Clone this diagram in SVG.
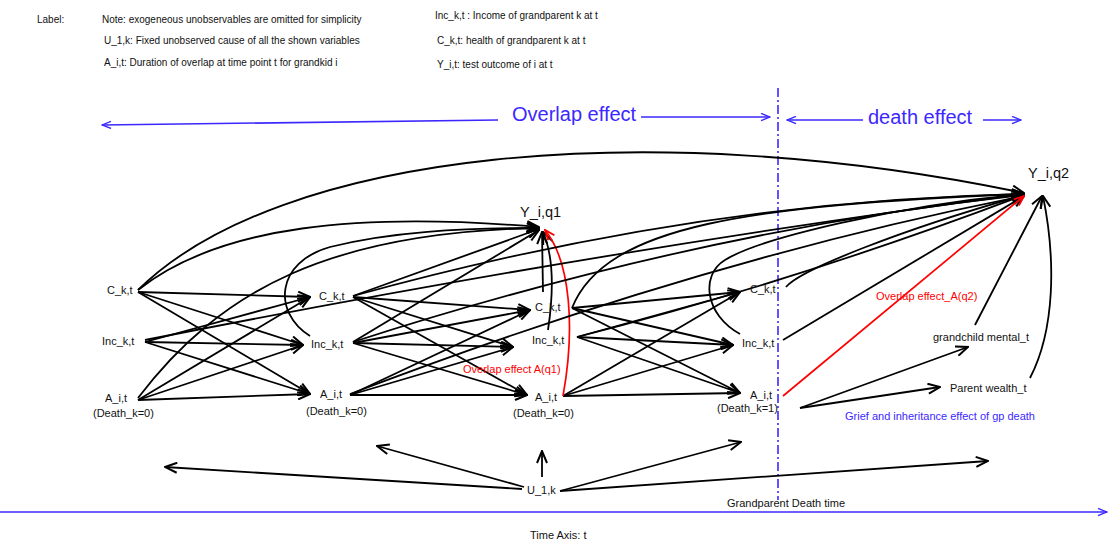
<svg xmlns="http://www.w3.org/2000/svg" width="1109" height="542" viewBox="0 0 1109 542">
<style>
text{font-family:"Liberation Sans",Arial,sans-serif;fill:#111}
.h{font-size:10px}
.n{font-size:11px}
.y{font-size:14.5px}
.big{font-size:20px;fill:#3c28ff}
.red{font-size:11px;fill:#f00}
.blt{font-size:11px;fill:#3c28ff}
.e{fill:none;stroke:#000;stroke-width:1.8;marker-end:url(#a)}
.r{fill:none;stroke:#f00;stroke-width:1.7}
.b{fill:none;stroke:#3c28ff;stroke-width:1.6;marker-end:url(#ab)}
</style>
<defs>
<marker id="a" viewBox="0 0 14 12" refX="13" refY="6" markerWidth="14" markerHeight="12" markerUnits="userSpaceOnUse" orient="auto"><path d="M1,1 L13,6 L1,11" fill="none" stroke="#000" stroke-width="2"/></marker>
<marker id="ar" viewBox="0 0 12 10" refX="11" refY="5" markerWidth="12" markerHeight="10" markerUnits="userSpaceOnUse" orient="auto"><path d="M1,1 L11,5 L1,9" fill="none" stroke="#f00" stroke-width="1.8"/></marker>
<marker id="ab" viewBox="0 0 12 10" refX="11" refY="5" markerWidth="11" markerHeight="9" markerUnits="userSpaceOnUse" orient="auto"><path d="M1,1 L11,5 L1,9" fill="none" stroke="#3c28ff" stroke-width="1.5"/></marker>
</defs>
<rect width="1109" height="542" fill="#fff"/>

<g id="legend">
<text class="h" x="37" y="23">Label:</text>
<text class="h" x="102" y="23">Note: exogeneous unobservables are omitted for simplicity</text>
<text class="h" x="104" y="44">U_1,k: Fixed unobserved cause of all the shown variables</text>
<text class="h" x="104" y="66">A_i,t: Duration of overlap at time point t for grandkid i</text>
<text class="h" x="435" y="19">Inc_k,t : Income of grandparent k at t</text>
<text class="h" x="437" y="44">C_k,t: health of grandparent k at t</text>
<text class="h" x="437" y="68">Y_i,t: test outcome of i at t</text>
</g>

<g id="periods">
<path class="b" d="M498,120 L102,125"/>
<text class="big" x="512" y="121">Overlap effect</text>
<path class="b" d="M641,117 L770,117"/>
<path class="b" d="M863,120 L787,120"/>
<text class="big" x="868" y="124">death effect</text>
<path class="b" d="M983,120 L1021,120"/>
<path d="M778,88 L778,500" fill="none" stroke="#3c28ff" stroke-width="1.6" stroke-dasharray="9,3,2,3"/>
<path class="b" d="M0,512 L1107,512"/>
<text class="n" x="727" y="507">Grandparent Death time</text>
<text class="n" x="530" y="539">Time Axis: t</text>
</g>

<g id="connectors">
<path class="e" d="M138,292 L310,297"/>
<path class="e" d="M138,292 L303,345"/>
<path class="e" d="M138,292 L310,394"/>
<path class="e" d="M145,342 L310,297"/>
<path class="e" d="M145,342 L303,345"/>
<path class="e" d="M145,342 L310,394"/>
<path class="e" d="M138,400 L310,297"/>
<path class="e" d="M138,400 L303,345"/>
<path class="e" d="M138,400 L310,394"/>
<path class="e" d="M353,297 L530,310"/>
<path class="e" d="M353,297 L513,347"/>
<path class="e" d="M353,297 L527,395"/>
<path class="e" d="M353,343 L530,310"/>
<path class="e" d="M353,343 L513,347"/>
<path class="e" d="M353,343 L527,395"/>
<path class="e" d="M350,395 L530,310"/>
<path class="e" d="M350,395 L513,347"/>
<path class="e" d="M350,395 L527,395"/>
<path class="e" d="M572,308 L740,292"/>
<path class="e" d="M572,308 L733,345"/>
<path class="e" d="M572,308 L740,393"/>
<path class="e" d="M577,337 L740,292"/>
<path class="e" d="M577,337 L733,345"/>
<path class="e" d="M577,337 L740,393"/>
<path class="e" d="M563,396 L740,292"/>
<path class="e" d="M563,396 L733,345"/>
<path class="e" d="M563,396 L740,393"/>
<path class="e" d="M138,290 C220,225 360,212 539,227"/>
<path class="e" d="M138,398 C220,290 330,232 539,228"/>
<path class="e" d="M310,336 C272,312 276,262 330,247 C390,232 460,228 539,228"/>
<path class="e" d="M353,296 L539,229"/>
<path class="e" d="M353,342 L539,230"/>
<path class="e" d="M543,292 L542,232"/>
<path class="e" d="M548,330 C554,290 553,255 543,232"/>
<path class="r" d="M563,396 C575,330 571,262 545,230" marker-end="url(#ar)"/>
<path class="e" d="M138,290 C280,150 650,115 1024,193"/>
<path class="e" d="M145,340 Q600,250 1024,194"/>
<path class="e" d="M353,296 Q700,200 1024,194"/>
<path class="e" d="M353,342 Q700,230 1024,195"/>
<path class="e" d="M350,394 Q700,260 1024,196"/>
<path class="e" d="M572,308 C605,225 750,205 1024,194"/>
<path class="e" d="M577,337 Q800,280 1024,195"/>
<path class="e" d="M740,334 C705,315 700,275 725,260 C760,238 900,205 1024,194"/>
<path class="e" d="M786,287 C800,270 900,230 1024,195"/>
<path class="e" d="M783,340 L1024,196"/>
<path class="r" d="M783,396 L1024,196" marker-end="url(#ar)"/>
<path class="e" d="M975,325 L1042,196"/>
<path class="e" d="M1030,378 C1055,330 1056,260 1043,196"/>
<path class="e" d="M800,408 L968,347"/>
<path class="e" d="M800,408 L940,387"/>
<path class="e" d="M522,489 L165,467"/>
<path class="e" d="M524,487 L377,446"/>
<path class="e" d="M542,477 L542,451"/>
<path class="e" d="M560,491 L741,442"/>
<path class="e" d="M560,491 L988,461"/>
</g>

<g id="C1"><text class="n" x="107" y="294">C_k,t</text></g>
<g id="Inc1"><text class="n" x="102" y="345">Inc_k,t</text></g>
<g id="A1"><text class="n" x="105" y="402">A_i,t</text><text class="n" x="93" y="417">(Death_k=0)</text></g>
<g id="C2"><text class="n" x="319" y="300">C_k,t</text></g>
<g id="Inc2"><text class="n" x="311" y="348">Inc_k,t</text></g>
<g id="A2"><text class="n" x="320" y="398">A_i,t</text><text class="n" x="306" y="415">(Death_k=0)</text></g>
<g id="C3"><text class="n" x="535" y="311">C_k,t</text></g>
<g id="Inc3"><text class="n" x="532" y="344">Inc_k,t</text></g>
<g id="A3"><text class="n" x="535" y="401">A_i,t</text><text class="n" x="513" y="417">(Death_k=0)</text></g>
<g id="C4"><text class="n" x="750" y="293">C_k,t</text></g>
<g id="Inc4"><text class="n" x="742" y="347">Inc_k,t</text></g>
<g id="A4"><text class="n" x="750" y="399">A_i,t</text><text class="n" x="717" y="412">(Death_k=1)</text></g>
<g id="Yq1"><text class="y" x="520" y="217">Y_i,q1</text></g>
<g id="Yq2"><text class="y" x="1028" y="178">Y_i,q2</text></g>
<g id="mental"><text class="n" x="933" y="341">grandchild mental_t</text></g>
<g id="wealth"><text class="n" x="950" y="392">Parent wealth_t</text></g>
<g id="U1"><text class="n" x="527" y="494">U_1,k</text></g>
<g id="notes">
<text class="red" x="876" y="300">Overlap effect_A(q2)</text>
<text class="red" x="463" y="373">Overlap effect A(q1)</text>
<text class="blt" x="845" y="420">Grief and inheritance effect of gp death</text>
</g>
</svg>
